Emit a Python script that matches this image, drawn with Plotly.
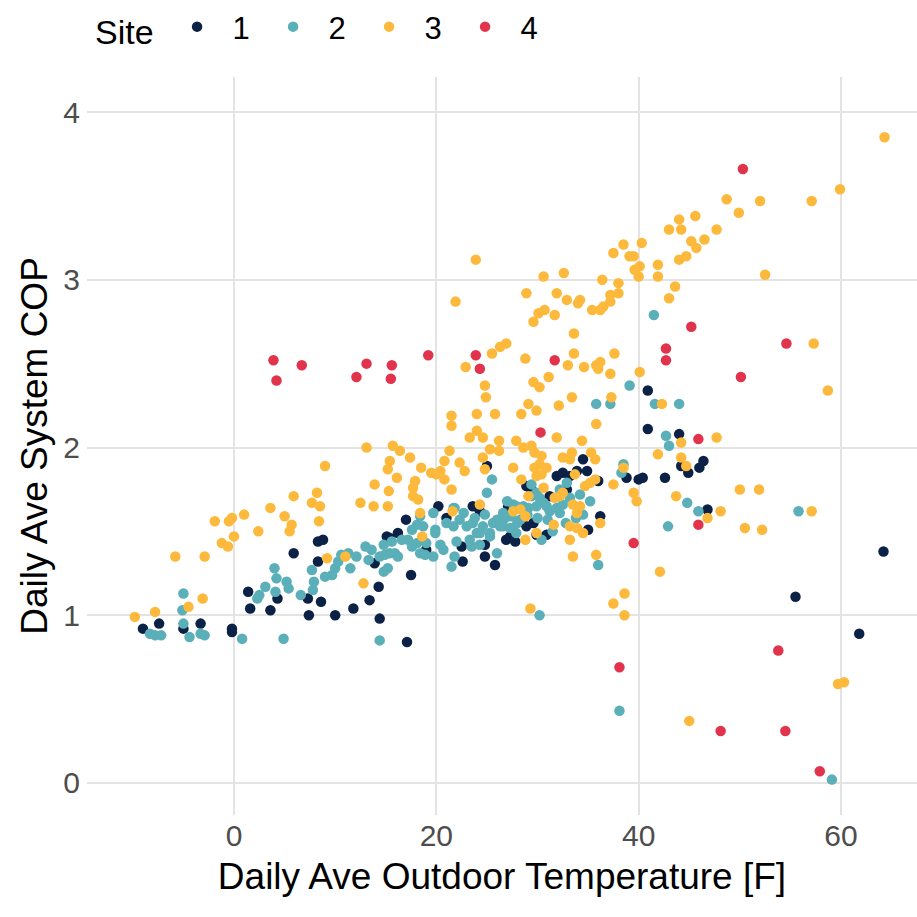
import plotly.graph_objects as go

# ---------------- data ----------------
site_names = ["1", "2", "3", "4"]
site_colors = ["#0c2146", "#5aafb9", "#fdb93b", "#e1344c"]

site1_x = [8.3, 8.8, 5.9, 8.3, 1.4, 4.3, 7.3, 8.6, 1.6, 3.6, 7.4, 10.0, 11.8, 13.4, -9.0, -7.4, -5.0, -3.3, -0.2, -0.2,
           17.0, 16.2, 15.1, 15.4, 20.2, 23.6, 21.0, 13.9, 17.5, 14.3, 14.4, 19.0, 22.5, 22.6, 17.1,
           25.0, 24.3, 28.9, 29.4, 27.1, 26.9, 27.8, 24.8, 24.8, 29.9, 28.9, 25.8,
           40.9, 40.9, 42.6, 34.5, 31.9, 32.5, 33.2, 33.9, 34.9, 36.0, 38.8, 40.0, 40.4, 31.2, 32.9, 36.2, 35.0, 30.9, 29.6, 27.3,
           44.0, 44.2, 44.9, 46.0, 46.4, 46.8, 64.2, 55.5, 61.8]
site1_y = [1.44, 1.45, 1.37, 1.32, 1.14, 1.10, 1.10, 1.08, 1.04, 1.03, 1.00, 1.00, 1.04, 1.09, 0.92, 0.95, 0.92, 0.95, 0.92, 0.90,
           1.57, 1.49, 1.47, 1.46, 1.65, 1.65, 1.58, 1.31, 1.24, 1.17, 0.98, 1.39, 1.41, 1.32, 0.84,
           1.89, 1.62, 1.77, 1.75, 1.65, 1.45, 1.44, 1.42, 1.35, 1.48, 1.53, 1.30,
           2.34, 2.11, 1.82, 1.93, 1.83, 1.85, 1.83, 1.86, 1.86, 1.80, 1.82, 1.81, 1.82, 1.71, 1.75, 1.59, 1.51, 1.48, 1.55, 1.47,
           2.08, 1.89, 1.85, 1.88, 1.92, 1.63, 1.38, 1.11, 0.89]

site2_x = [-5.0, -5.1, -5.0, -8.3, -7.8, -7.2, -4.4, -3.3, -2.9, 0.8, 4.9, 4.0, 4.2, 3.1, 2.5, 2.3, 5.2, 5.4, 4.1, 6.6,
           7.7, 7.9, 7.8, 9.0, 9.7, 10.0, 10.3, 10.6, 11.3, 12.1, 11.5, 13.0, 13.3,
           13.6, 14.8, 14.4, 14.8, 15.2, 15.9, 16.2, 15.4, 17.2, 17.6, 18.1, 18.4, 19.0, 18.1, 18.4, 19.9, 19.7, 20.7,
           19.7, 21.7, 21.0, 21.7, 22.3, 23.0, 23.6, 24.0, 23.3, 21.8, 21.5, 14.4,
           25.5, 25.0, 29.4, 29.4, 29.1, 27.9, 27.4, 28.3, 27.3, 26.3, 25.6, 25.3, 24.3, 22.7, 21.8, 24.3, 26.0, 23.5,
           22.0, 20.4, 19.9, 18.7, 17.6, 16.6, 15.6, 14.9, 18.9,
           39.1, 35.8, 37.2, 41.6, 44.0, 42.7, 43.0, 42.9, 41.5, 29.9, 30.2, 30.6, 30.9, 31.2, 31.9, 32.2, 29.9, 28.6,
           27.6, 32.9, 34.2, 34.5, 32.2, 26.6, 26.0, 24.6, 26.6, 25.3, 27.9, 30.4, 38.5, 38.3, 36.0,
           44.8, 45.9, 38.1, 59.1, 30.2, 55.8,
           26.8, 28.0, 29.0, 30.0, 31.0, 32.5, 33.2, 23.8, 24.8, 27.0, 31.5, 32.8, 35.2, 33.8]
site2_y = [1.13, 1.03, 0.95, 0.89, 0.88, 0.88, 0.87, 0.89, 0.88, 0.86, 0.86, 1.28, 1.22, 1.17, 1.12, 1.10, 1.20, 1.16, 1.14, 1.12,
           1.27, 1.20, 1.15, 1.23, 1.24, 1.28, 1.32, 1.36, 1.37, 1.35, 1.28, 1.41, 1.33,
           1.39, 1.42, 1.35, 1.26, 1.28, 1.37, 1.35, 1.37, 1.45, 1.41, 1.43, 1.37, 1.43, 1.54, 1.59, 1.51, 1.35, 1.39,
           1.61, 1.64, 1.55, 1.53, 1.57, 1.53, 1.55, 1.49, 1.45, 1.35, 1.29, 0.85,
           1.81, 1.73, 1.78, 1.71, 1.64, 1.65, 1.59, 1.57, 1.52, 1.53, 1.55, 1.47, 1.49, 1.61, 1.64, 1.42, 1.37, 1.41,
           1.44, 1.42, 1.49, 1.53, 1.51, 1.45, 1.44, 1.36, 1.36,
           2.37, 2.26, 2.26, 2.26, 2.26, 2.07, 2.01, 1.53, 2.79, 1.73, 1.70, 1.67, 1.65, 1.62, 1.64, 1.61, 1.65, 1.65,
           1.66, 1.79, 1.72, 1.60, 1.75, 1.61, 1.57, 1.53, 1.53, 1.49, 1.49, 1.45, 1.90, 1.85, 1.30,
           1.67, 1.62, 0.43, 0.02, 1.00, 1.62,
           1.58, 1.55, 1.60, 1.58, 1.57, 1.66, 1.70, 1.58, 1.60, 1.68, 1.50, 1.55, 1.68, 1.58]

site3_x = [64.3, 59.9, 48.7, 52.0, 57.1, 49.9, 45.6, 44.0, 43.0, 44.2, 47.7, 46.5, 45.2, 45.7, 44.7, 44.0, 40.3, 38.5,
           37.5, 39.1, 39.5, 40.1, 39.6, 40.0, 41.9, 41.9, 52.5, 23.9, 30.6, 32.6, 36.4, 38.0, 43.6, 43.0, 28.9, 31.9,
           32.9, 34.2, 34.0, 37.2, 38.0, 37.2, 36.5, 35.4, 36.2, 21.9, 30.7, 30.1, 29.6, 31.7, 33.6, 26.9, 26.3, 25.5,
           22.9, 28.8, 33.6, 33.0, 34.6, 35.8, 36.2, 36.0, 37.6, 37.2, 40.1, 57.3, 58.7, 24.8, 24.9, 29.6, 30.2, 31.1,
           33.4, 37.3,
           32.1, 29.1, 28.4, 29.9, 25.8, 24.0, 35.8, 42.3, 31.9, 34.4, 26.2, 24.0, 24.6, 23.3, 27.9, 28.6, 29.4, 29.7,
           30.4, 30.2, 30.9, 29.7, 30.4, 29.9, 25.3, 26.2, 24.6, 24.8, 27.6, 28.4, 32.5, 33.4, 33.2, 35.3, 35.7, 41.9,
           38.5, 37.5, 39.5, 39.8, 33.7, 34.7, 35.2, 35.7, 30.6, 31.7, 32.2, 32.5, 29.1, 27.6, 28.8, 28.3, 24.3, 33.5,
           34.2, 33.9, 33.2, 33.9, 34.5, 31.6, 29.9, 36.2, 28.8, 33.2, 33.5, 35.8, 42.1, 38.6,
           44.2, 47.7, 44.2, 44.7, 43.7, 46.8, 48.1, 50.0, 51.9, 57.1, 50.5, 52.2, 37.5, 38.6, 45.0, 59.7, 60.3, 29.3,
           18.6, 21.6, 18.4,
           21.5, 21.5, 13.1, 15.7, 16.4, 17.4, 21.3, 9.0, 15.4, 15.2, 16.1, 18.5, 19.5, 20.4, 20.8, 20.8, 22.3, 22.8,
           13.9, 17.9, 17.7, 17.7, 18.2, 15.3, 21.5, 5.9, 8.2, 7.7, 8.5, 12.5, 13.8, 15.2, 5.0, 5.7, 5.5, 8.4, 11.0,
           9.2, 12.8, 20.0,
           3.6, 1.0, -0.2, -0.5, -1.9, 2.4, 0.0, -1.2, -0.6, -5.8, -2.9, -3.1, -4.5, -7.8, -9.8]
site3_y = [3.85, 3.54, 3.48, 3.47, 3.47, 3.40, 3.38, 3.36, 3.30, 3.30, 3.30, 3.24, 3.23, 3.19, 3.14, 3.12, 3.22, 3.21,
           3.16, 3.14, 3.14, 3.08, 3.06, 3.02, 3.09, 3.02, 3.03, 3.12, 3.02, 3.04, 3.00, 2.98, 2.96, 2.89, 2.92, 2.92,
           2.88, 2.88, 2.86, 2.91, 2.92, 2.87, 2.84, 2.82, 2.82, 2.87, 2.82, 2.80, 2.75, 2.79, 2.68, 2.62, 2.60, 2.56,
           2.48, 2.53, 2.56, 2.49, 2.48, 2.49, 2.51, 2.47, 2.56, 2.44, 2.45, 2.62, 2.34, 2.37, 2.30, 2.39, 2.36, 2.42,
           2.30, 2.30,
           2.25, 2.26, 2.20, 2.22, 2.20, 2.20, 2.14, 2.26, 2.06, 2.04, 2.04, 2.10, 2.06, 2.06, 2.04, 2.00, 2.01, 1.97,
           1.95, 1.90, 1.88, 1.88, 1.84, 1.83, 1.99, 1.98, 1.94, 1.87, 1.88, 1.81, 1.94, 1.97, 1.93, 1.97, 1.93, 1.96,
           1.88, 1.78, 1.73, 1.68, 1.84, 1.77, 1.79, 1.81, 1.76, 1.70, 1.71, 1.73, 1.71, 1.62, 1.59, 1.63, 1.66, 1.66,
           1.65, 1.61, 1.53, 1.52, 1.49, 1.54, 1.49, 1.55, 1.45, 1.45, 1.35, 1.36, 1.26, 1.13,
           2.03, 2.06, 1.94, 1.89, 1.71, 1.58, 1.62, 1.75, 1.75, 1.62, 1.52, 1.51, 1.07, 1.00, 0.37, 0.59, 0.60, 1.04,
           1.47, 1.62, 1.61,
           2.19, 2.13, 2.00, 2.01, 1.98, 1.94, 1.98, 1.89, 1.92, 1.87, 1.82, 1.88, 1.85, 1.86, 1.92, 1.81, 1.91, 1.86,
           1.78, 1.80, 1.76, 1.71, 1.69, 1.74, 1.75, 1.71, 1.73, 1.67, 1.65, 1.67, 1.65, 1.65, 1.59, 1.54, 1.50, 1.56, 1.35,
           1.34, 1.19, 1.84,
           1.64, 1.60, 1.58, 1.56, 1.56, 1.50, 1.47, 1.43, 1.41, 1.35, 1.35, 1.10, 1.05, 1.02, 0.99]

site4_x = [3.9, 4.2, 6.7, 13.1, 12.1, 15.6, 15.5, 19.2, 23.9, 24.3, 31.7, 30.3, 50.3, 45.2, 42.7, 42.7, 54.6, 50.1,
           45.9, 45.9, 39.5, 38.1, 53.8, 48.1, 54.5, 57.9]
site4_y = [2.52, 2.40, 2.49, 2.50, 2.42, 2.49, 2.41, 2.55, 2.55, 2.47, 2.52, 2.09, 3.66, 2.72, 2.59, 2.52, 2.62, 2.42,
           2.05, 1.54, 1.43, 0.69, 0.79, 0.31, 0.31, 0.07]

x_tick_vals = [0, 20, 40, 60]
y_tick_vals = [0, 1, 2, 3, 4]
x_title = "Daily Ave Outdoor Temperature [F]"
y_title = "Daily Ave System COP"
legend_title = "Site"

# ---------------- figure ----------------
FONT = "Liberation Sans, Arial, sans-serif"
xs = [site1_x, site2_x, site3_x, site4_x]
ys = [site1_y, site2_y, site3_y, site4_y]

fig = go.Figure()
for name, color, x, y in zip(site_names, site_colors, xs, ys):
    fig.add_trace(go.Scatter(
        x=x, y=y, mode="markers", name=name,
        marker=dict(color=color, size=10.5, line=dict(width=0)),
    ))

fig.update_layout(
    width=917, height=917,
    margin=dict(l=87, r=0, t=77, b=102, pad=0, autoexpand=False),
    paper_bgcolor="white", plot_bgcolor="white",
    font=dict(family=FONT, color="black"),
    legend=dict(
        orientation="h",
        xref="container", yref="container",
        x=0.1014, y=1.0, xanchor="left", yanchor="top",
        title=dict(text=legend_title, font=dict(size=34, color="black"), side="left"),
        font=dict(size=31, color="black"),
        itemwidth=61,
        entrywidth=20, entrywidthmode="pixels",
        bgcolor="rgba(0,0,0,0)",
    ),
    xaxis=dict(
        range=[-14.53, 67.51], tickvals=x_tick_vals,
        showgrid=True, gridcolor="#e3e3e3", gridwidth=1.6,
        zeroline=False, showline=False, ticks="",
        tickfont=dict(size=30, color="#4d4d4d"),
        title=dict(text=x_title, font=dict(size=37, color="black"), standoff=12),
    ),
    yaxis=dict(
        range=[-0.191, 4.209], tickvals=y_tick_vals,
        showgrid=True, gridcolor="#e3e3e3", gridwidth=1.6,
        zeroline=False, showline=False, ticks="",
        tickfont=dict(size=30, color="#4d4d4d"),
        ticklabelstandoff=6,
        title=dict(text=y_title, font=dict(size=37, color="black"), standoff=4),
    ),
)

fig.write_html("out.html")
